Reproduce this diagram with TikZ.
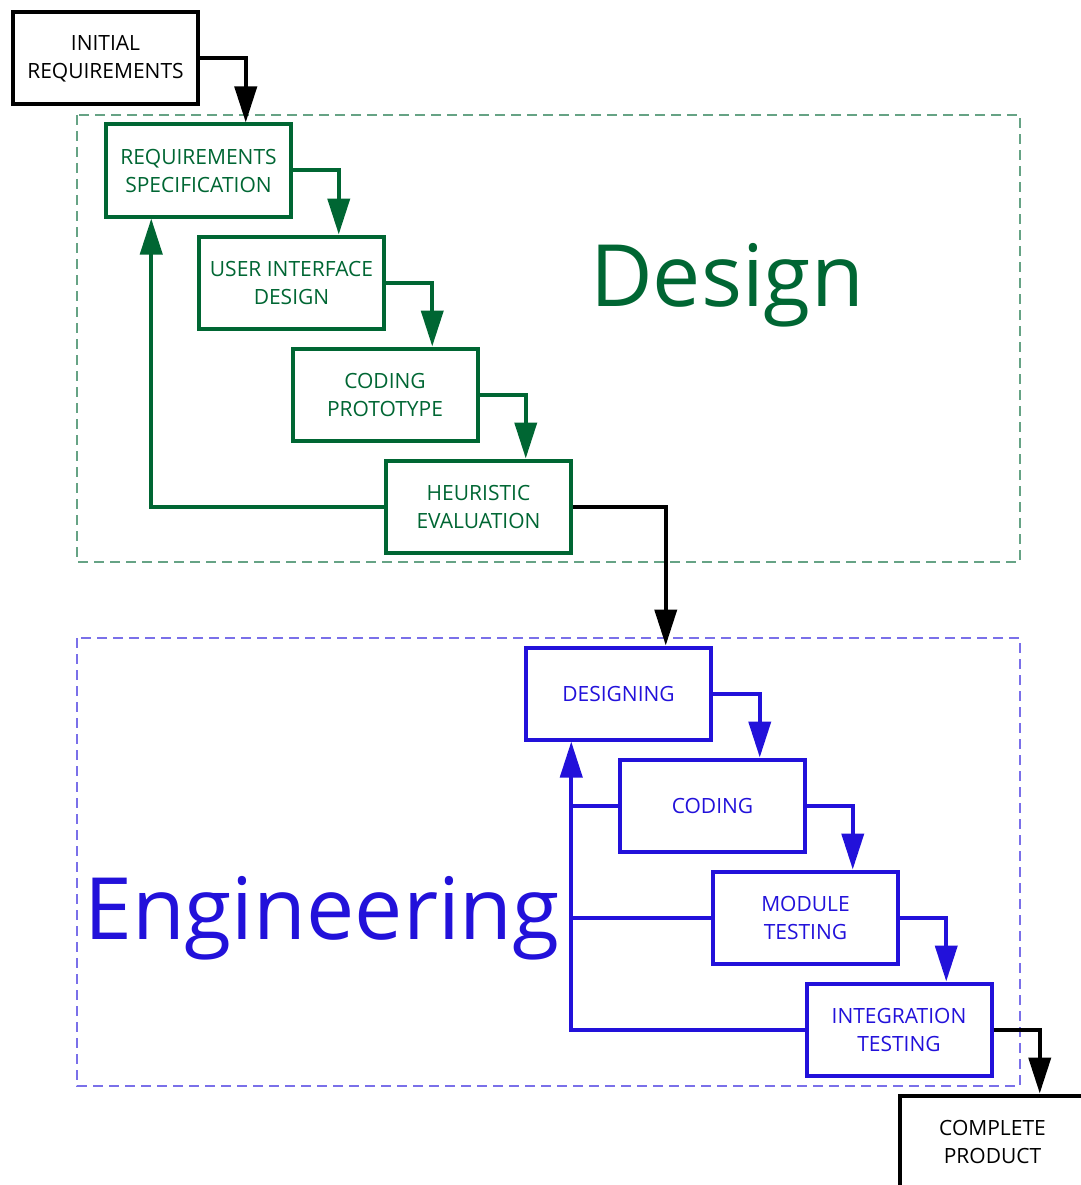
\documentclass[tikz,border=0pt]{standalone}
\usepackage{fontspec}
\setmainfont{Open Sans}
\usetikzlibrary{arrows.meta,calc}
\definecolor{dgreen}{RGB}{0,102,51}
\definecolor{dblue}{RGB}{34,17,218}
\begin{document}
\begin{tikzpicture}[x=1pt,y=-1pt,
  stage/.style={draw, line width=4pt, minimum width=185pt, minimum height=92pt,
    align=center, inner sep=0pt, font=\fontsize{21}{28}\selectfont},
  flow/.style={line width=4pt, -{Triangle[length=36pt,width=22pt]}},
  plain/.style={line width=4pt},
  frame/.style={line width=1.2pt, dash pattern=on 10pt off 6pt},
  title/.style={font=\fontsize{86}{90}\selectfont, inner sep=0pt}]
\useasboundingbox (0,0) rectangle (1080,1185);

% phase frames
\draw[frame, dgreen!60] (77,115) rectangle (1020,562);
\draw[frame, dblue!60] (77,638) rectangle (1020,1086);

% phase titles
\node[title, text=dgreen] (tdesign) at (727,285) {Design};
\node[title, text=dblue] (teng) at (322,918) {Engineering};

% stages
\node[stage] (ir) at (105.5,58.5) {INITIAL\\REQUIREMENTS};
\node[stage, dgreen] (rs) at (198.5,170.5) {REQUIREMENTS\\SPECIFICATION};
\node[stage, dgreen] (ui) at (291.5,282.5) {USER INTERFACE\\DESIGN};
\node[stage, dgreen] (cp) at (385,394.5) {CODING\\PROTOTYPE};
\node[stage, dgreen] (he) at (478.5,506.5) {HEURISTIC\\EVALUATION};
\node[stage, dblue] (de) at (618.5,693.5) {DESIGNING};
\node[stage, dblue] (co) at (712.5,805.5) {CODING};
\node[stage, dblue] (mt) at (805.5,917.5) {MODULE\\TESTING};
\node[stage, dblue] (it) at (899,1029.5) {INTEGRATION\\TESTING};
\node[stage] (pr) at (992.5,1141.5) {COMPLETE\\PRODUCT};

% forward flow
\draw[flow] (ir.east) -| ($(rs.north)!0.5!(rs.north east)$);
\draw[flow, dgreen] (rs.east) -| ($(ui.north)!0.5!(ui.north east)$);
\draw[flow, dgreen] (ui.east) -| ($(cp.north)!0.5!(cp.north east)$);
\draw[flow, dgreen] (cp.east) -| ($(he.north)!0.5!(he.north east)$);
\draw[flow] (he.east) -| ($(de.north)!0.5!(de.north east)$);
\draw[flow, dblue] (de.east) -| ($(co.north)!0.5!(co.north east)$);
\draw[flow, dblue] (co.east) -| ($(mt.north)!0.5!(mt.north east)$);
\draw[flow, dblue] (mt.east) -| ($(it.north)!0.5!(it.north east)$);
\draw[flow] (it.east) -| ($(pr.north)!0.5!(pr.north east)$);

% feedback loops
\draw[flow, dgreen] (he.west) -| ($(rs.south)!0.5!(rs.south west)$);
\coordinate (bus) at ($(de.south)!0.5!(de.south west)$);
\draw[flow, dblue] (it.west) -| (bus);
\draw[plain, dblue] (co.west) -- (bus |- co.west);
\draw[plain, dblue] (mt.west) -- (bus |- mt.west);
\end{tikzpicture}
\end{document}
